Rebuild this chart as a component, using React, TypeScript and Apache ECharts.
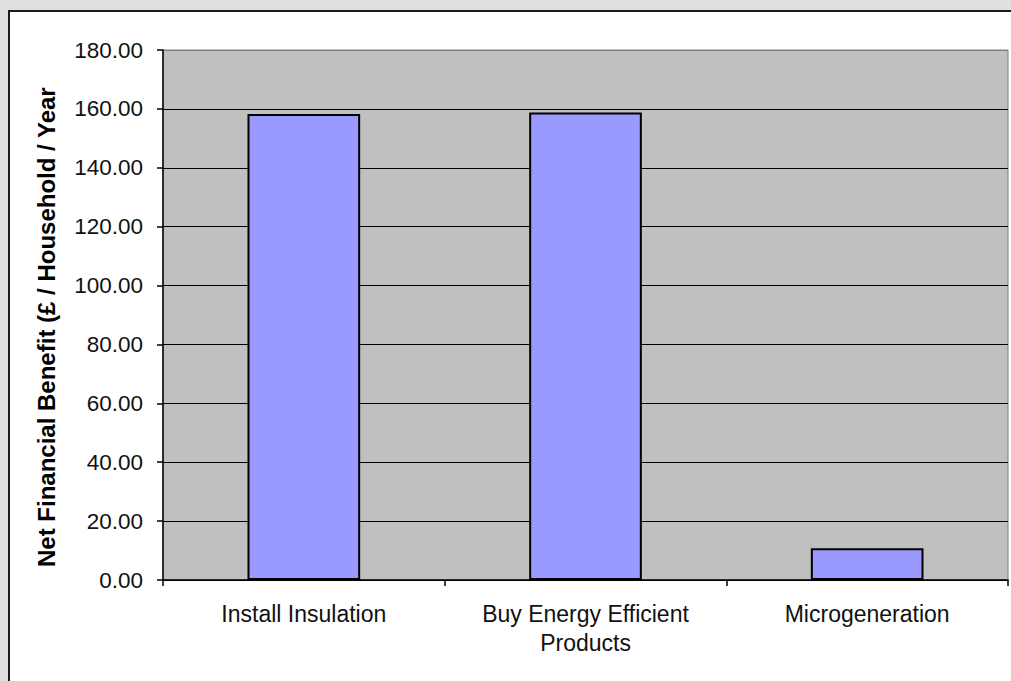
import React, { useEffect, useRef } from "react";
import * as echarts from "echarts";

const categories = ["Install Insulation", "Buy Energy Efficient\nProducts", "Microgeneration"];
const values = [158.3, 158.8, 10.8];
const yTicks = [0, 20, 40, 60, 80, 100, 120, 140, 160, 180];
const yAxisTitle = "Net Financial Benefit (£ / Household / Year";

export default function App() {
  const ref = useRef<HTMLDivElement>(null);
  useEffect(() => {
    if (!ref.current) return;
    const chart = echarts.init(ref.current, null, { renderer: "svg" });
    const font = "'Liberation Sans', Arial, sans-serif";
    chart.setOption({
      animation: false,
      backgroundColor: "#e0e0e0",
      textStyle: { fontFamily: font },
      graphic: [
        {
          type: "rect",
          z: -10,
          silent: true,
          shape: { x: 9, y: 11, width: 1020, height: 690 },
          style: { fill: "#ffffff", stroke: "#1a1a1a", lineWidth: 2 },
        },
        {
          type: "text",
          x: 46,
          y: 567,
          rotation: Math.PI / 2,
          style: {
            text: yAxisTitle,
            fontFamily: font,
            fontSize: 24,
            fontWeight: "bold",
            fill: "#000",
            align: "left",
            verticalAlign: "middle",
          },
        },
      ],
      grid: {
        left: 163,
        top: 50,
        width: 845,
        height: 530,
        show: true,
        backgroundColor: "#c0c0c0",
        borderColor: "#808080",
        borderWidth: 1,
      },
      xAxis: {
        type: "category",
        data: categories,
        boundaryGap: true,
        axisLine: { show: true, lineStyle: { color: "#000", width: 1.5 } },
        axisTick: { show: true, alignWithLabel: false, length: 6, lineStyle: { color: "#000", width: 1.5 } },
        axisLabel: {
          color: "#111",
          fontSize: 23,
          lineHeight: 29,
          margin: 19,
          interval: 0,
          fontFamily: font,
        },
      },
      yAxis: {
        type: "value",
        min: yTicks[0],
        max: yTicks[yTicks.length - 1],
        interval: 20,
        axisLine: { show: true, lineStyle: { color: "#000", width: 1.5 } },
        axisTick: { show: true, length: 6, lineStyle: { color: "#000", width: 1.5 } },
        axisLabel: {
          color: "#111",
          fontSize: 22.5,
          margin: 20,
          fontFamily: font,
          formatter: (v: number) => v.toFixed(2),
        },
        splitLine: {
          show: true,
          lineStyle: {
            color: ["#000", "#000", "#000", "#000", "#000", "#000", "#000", "#000", "#000", "#808080"],
            width: 1,
          },
        },
      },
      series: [
        {
          type: "bar",
          data: values,
          barWidth: "40%",
          itemStyle: { color: "#9999ff", borderColor: "#000", borderWidth: 2 },
        },
      ],
    });
    return () => chart.dispose();
  }, []);
  return (
    <div
      ref={ref}
      style={{ position: "absolute", left: 0, top: 0, width: 1011, height: 681 }}
    />
  );
}
